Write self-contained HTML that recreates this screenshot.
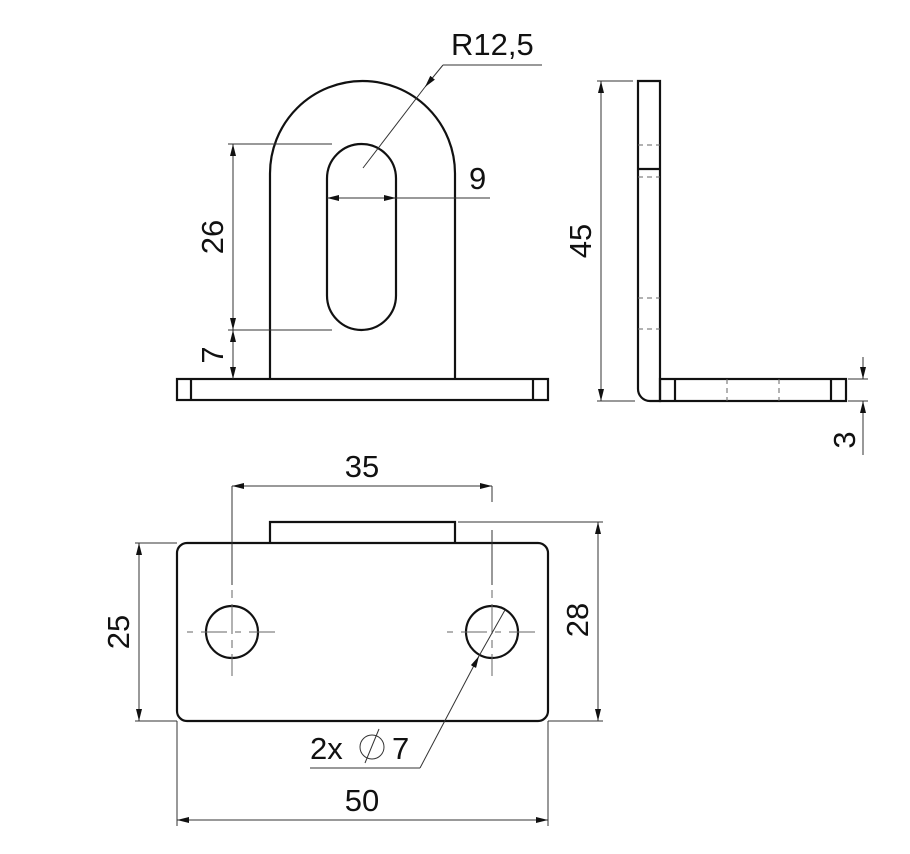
<!DOCTYPE html>
<html><head><meta charset="utf-8"><style>
html,body{margin:0;padding:0;background:#fff;}
svg{display:block;}
text{font-family:"Liberation Sans","DejaVu Sans",sans-serif;font-size:31px;fill:#111;}
</style></head><body>
<svg width="910" height="854" viewBox="0 0 910 854" xmlns="http://www.w3.org/2000/svg">
<defs>
<marker id="a" viewBox="0 0 12 6" refX="12" refY="3" markerWidth="12" markerHeight="6" markerUnits="userSpaceOnUse" orient="auto-start-reverse"><path d="M0,0 L12,3 L0,6 z" fill="#111"/></marker>
</defs>
<g fill="none" stroke="#111" stroke-width="2.2">
<rect x="177" y="379" width="371" height="21"/>
<line x1="191" y1="379" x2="191" y2="400"/>
<line x1="533" y1="379" x2="533" y2="400"/>
<path d="M270,379 L270,173.5 A92.5,92.5 0 0 1 455,173.5 L455,379"/>
<path d="M327,178.5 A34.5,34.5 0 0 1 396,178.5 L396,295.5 A34.5,34.5 0 0 1 327,295.5 Z"/>
<path d="M638,81 L660,81 L660,401 L650,401 A12,12 0 0 1 638,389 Z"/>
<line x1="638" y1="169" x2="660" y2="169"/>
<rect x="660" y="379" width="186" height="22"/>
<line x1="675" y1="379" x2="675" y2="401"/>
<line x1="831" y1="379" x2="831" y2="401"/>
<rect x="177" y="543" width="371" height="178" rx="10"/>
<path d="M270,543 L270,522 L455,522 L455,543"/>
<circle cx="232" cy="632" r="26"/>
<circle cx="492" cy="632" r="26"/>
</g>
<g fill="none" stroke="#666" stroke-width="1" stroke-dasharray="5,4">
<line x1="638" y1="145" x2="660" y2="145"/>
<line x1="638" y1="177" x2="660" y2="177"/>
<line x1="638" y1="298" x2="660" y2="298"/>
<line x1="638" y1="329" x2="660" y2="329"/>
<line x1="727" y1="379" x2="727" y2="401"/>
<line x1="779" y1="379" x2="779" y2="401"/>
<line x1="187" y1="632" x2="278" y2="632" stroke-dasharray="6,8,26,8"/>
<line x1="447" y1="632" x2="538" y2="632" stroke-dasharray="6,8,26,8"/>
<line x1="232" y1="590" x2="232" y2="676" stroke-dasharray="8,6,30,6"/>
<line x1="492" y1="590" x2="492" y2="676" stroke-dasharray="8,6,30,6"/>
</g>
<g fill="none" stroke="#333" stroke-width="1">
<line x1="228" y1="144" x2="332" y2="144"/>
<line x1="228" y1="330" x2="332" y2="330"/>
<line x1="233" y1="144" x2="233" y2="330" marker-start="url(#a)" marker-end="url(#a)"/>
<line x1="233" y1="330" x2="233" y2="379" marker-start="url(#a)" marker-end="url(#a)"/>
<line x1="327" y1="198" x2="396" y2="198" marker-start="url(#a)" marker-end="url(#a)"/>
<line x1="396" y1="198" x2="490" y2="198"/>
<line x1="363" y1="168" x2="425" y2="87"/>
<line x1="425" y1="87" x2="443" y2="65" marker-start="url(#a)"/>
<line x1="443" y1="65" x2="542" y2="65"/>
<line x1="597" y1="81" x2="633" y2="81"/>
<line x1="597" y1="401" x2="635" y2="401"/>
<line x1="601" y1="81" x2="601" y2="401" marker-start="url(#a)" marker-end="url(#a)"/>
<line x1="848" y1="379" x2="868" y2="379"/>
<line x1="848" y1="401" x2="868" y2="401"/>
<line x1="863" y1="357" x2="863" y2="379" marker-end="url(#a)"/>
<line x1="863" y1="455" x2="863" y2="401" marker-end="url(#a)"/>
<line x1="232" y1="486" x2="492" y2="486" marker-start="url(#a)" marker-end="url(#a)"/>
<line x1="232" y1="486" x2="232" y2="585"/>
<line x1="492" y1="486" x2="492" y2="502"/>
<line x1="492" y1="530" x2="492" y2="585"/>
<line x1="135" y1="543" x2="177" y2="543"/>
<line x1="135" y1="721" x2="177" y2="721"/>
<line x1="548" y1="721" x2="603" y2="721"/>
<line x1="139" y1="543" x2="139" y2="721" marker-start="url(#a)" marker-end="url(#a)"/>
<line x1="458" y1="522" x2="603" y2="522"/>
<line x1="598" y1="522" x2="598" y2="721" marker-start="url(#a)" marker-end="url(#a)"/>
<line x1="177" y1="721" x2="177" y2="826"/>
<line x1="548" y1="721" x2="548" y2="826"/>
<line x1="177" y1="820" x2="548" y2="820" marker-start="url(#a)" marker-end="url(#a)"/>
<line x1="505" y1="610" x2="479" y2="656"/>
<line x1="420" y1="768" x2="479" y2="656" marker-end="url(#a)"/>
<line x1="310" y1="768" x2="420" y2="768"/>
<circle cx="372" cy="747" r="12"/>
<line x1="365" y1="763" x2="379" y2="729"/>
</g>
<text x="451" y="55">R12,5</text>
<text x="469" y="189">9</text>
<text transform="translate(223,237) rotate(-90)" text-anchor="middle">26</text>
<text transform="translate(223,355) rotate(-90)" text-anchor="middle">7</text>
<text transform="translate(591,241) rotate(-90)" text-anchor="middle">45</text>
<text transform="translate(855,440) rotate(-90)" text-anchor="middle">3</text>
<text x="362" y="477" text-anchor="middle">35</text>
<text transform="translate(129,632) rotate(-90)" text-anchor="middle">25</text>
<text transform="translate(588,620) rotate(-90)" text-anchor="middle">28</text>
<text x="362" y="811" text-anchor="middle">50</text>
<text x="310" y="759">2x</text>
<text x="392" y="759">7</text>
</svg>
</body></html>
